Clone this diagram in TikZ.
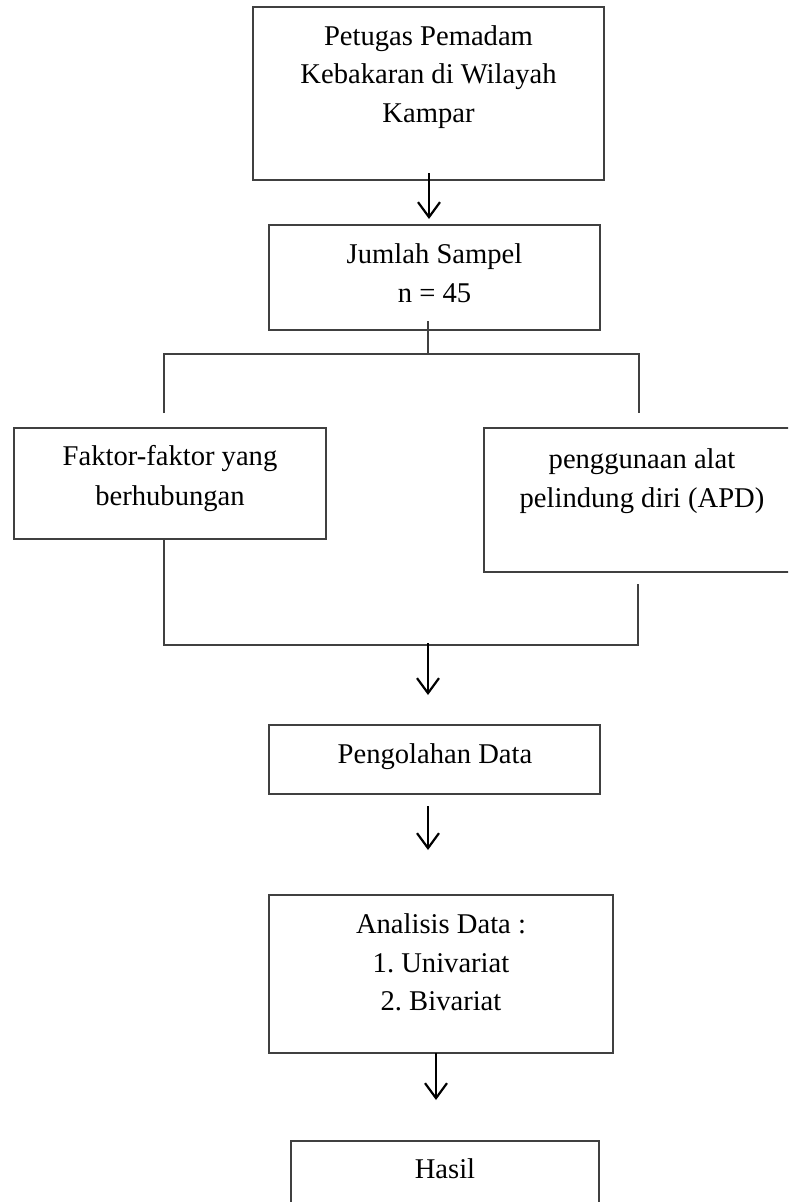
\documentclass[tikz,border=0pt]{standalone}
\usepackage{fontspec}
\setmainfont{Liberation Serif}
\usetikzlibrary{arrows.meta}
\frenchspacing
\begin{document}
\begin{tikzpicture}[x=1pt,y=-1pt,
  box/.style={draw=black!75,line width=1.5pt,rectangle,inner sep=0pt},
  txt/.style={anchor=base,inner sep=0pt,font=\fontsize{28.6}{34}\selectfont},
  ln/.style={draw=black!75,line width=1.5pt},
  arr/.style={draw=black,line width=2.2pt,-{Straight Barb[length=15pt,width=22pt,line width=2.2pt]}}]
\useasboundingbox (0,0) rectangle (788,1202);
\clip (0,0) rectangle (788,1202);
% boxes
\node[box,minimum width=351pt,minimum height=173pt] (b1) at (428.5,93.5) {};
\node[box,minimum width=331pt,minimum height=105pt] (b2) at (434.5,277.5) {};
\node[box,minimum width=312pt,minimum height=111pt] (b3) at (170,483.5) {};
\node[box,minimum width=320pt,minimum height=144pt] (b4) at (644,500) {};
\node[box,minimum width=331pt,minimum height=69pt] (b5) at (434.5,759.5) {};
\node[box,minimum width=344pt,minimum height=158pt] (b6) at (441,974) {};
\node[box,minimum width=308pt,minimum height=80pt] (b7) at (445,1181) {};
% texts
\node[txt] (t1a) at (428.5,45) {Petugas Pemadam};
\node[txt] (t1b) at (428.5,83) {Kebakaran di Wilayah};
\node[txt] (t1c) at (428.5,122) {Kampar};
\node[txt] (t2a) at (434.5,263) {Jumlah Sampel};
\node[txt] (t2b) at (434.5,302) {n = 45};
\node[txt] (t3a) at (170,465) {Faktor-faktor yang};
\node[txt] (t3b) at (170,505) {berhubungan};
\node[txt] (t4a) at (642,468) {penggunaan alat};
\node[txt] (t4b) at (642,507) {pelindung diri (APD)};
\node[txt] (t5) at (435,763) {Pengolahan Data};
\node[txt] (t6a) at (441,933) {Analisis Data :};
\node[txt] (t6b) at (441,972) {1. Univariat};
\node[txt] (t6c) at (441,1010) {2. Bivariat};
\node[txt] (t7) at (445,1178) {Hasil};
% coordinates
\coordinate (s0) at (428,321);
\coordinate (sp) at (428,354);
\coordinate (spl) at (164,354);
\coordinate (spr) at (639,354);
\coordinate (tl) at (164,413);
\coordinate (tr) at (639,413);
\coordinate (bl) at (164,539);
\coordinate (jl) at (164,645);
\coordinate (jr) at (638,645);
\coordinate (rt) at (638,584);
\coordinate (jm) at (428,643);
\coordinate (a2e) at (428,695);
\coordinate (a3s) at (428,806);
\coordinate (a3e) at (428,850);
\coordinate (a4s) at (436,1053);
\coordinate (a4e) at (436,1100);
\coordinate (a1s) at (429,173);
\coordinate (a1e) at (429,219);
% connectors
\draw[arr] (a1s) -- (a1e);
\draw[ln] (s0) -- (sp);
\draw[ln] (tl) -- (spl) -- (spr) -- (tr);
\draw[ln] (bl) -- (jl) -- (jr) -- (rt);
\draw[arr] (jm) -- (a2e);
\draw[arr] (a3s) -- (a3e);
\draw[arr] (a4s) -- (a4e);
\end{tikzpicture}
\end{document}
